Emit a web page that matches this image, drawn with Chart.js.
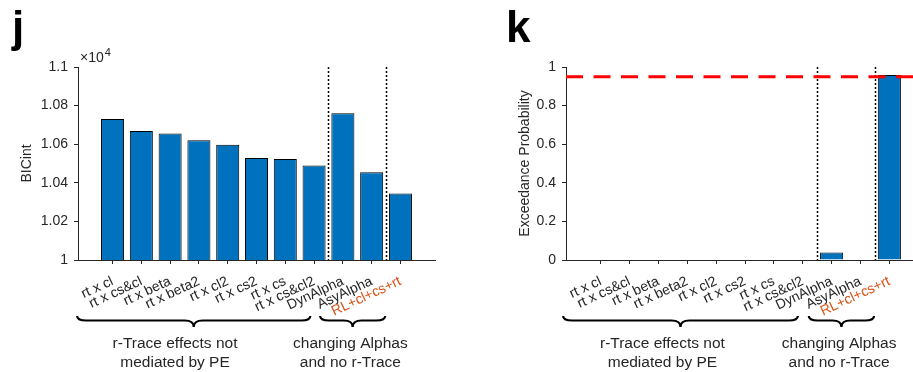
<!DOCTYPE html>
<html>
<head>
<meta charset="utf-8">
<script src="https://cdn.jsdelivr.net/npm/chart.js@4.4.0/dist/chart.umd.min.js"></script>
<style>
body { margin: 0; background: #fff; overflow: hidden; width: 913px; height: 372px; position: relative; }
canvas { position: absolute; top: 0; }
#bicChart { left: 0; }
#expChart { left: 460px; }
</style>
</head>
<body>
<canvas id="bicChart" width="460" height="372"></canvas>
<canvas id="expChart" width="480" height="372"></canvas>
<script>
// model names on the x axis (the last one is the winning model, in orange)
const modelLabels = ["rt x cl", "rt x cs&cl", "rt x beta", "rt x beta2", "rt x cl2", "rt x cs2",
    "rt x cs", "rt x cs&cl2", "DynAlpha", "AsyAlpha", "RL+cl+cs+rt"];
// integrated BIC, raw units (axis shows them x10^4)
const bicValues = [10731, 10669, 10655, 10621, 10597, 10529, 10523, 10490, 10761, 10455, 10345];
// exceedance probabilities
const exceedanceValues = [0, 0, 0, 0, 0, 0, 0, 0, 0.039, 0.003, 0.958];
const bicTicks = [10000, 10200, 10400, 10600, 10800, 11000];
const probTicks = [0, 0.2, 0.4, 0.6, 0.8, 1];
const groupNames = [["r-Trace effects not", "mediated by PE"], ["changing Alphas", "and no r-Trace"]];
const separators = [8.5, 10.5];
const threshold = 0.95;

const axisColor = "#262626";
const fontFamily = "'Liberation Sans', Arial, Helvetica, sans-serif";

function drawBrace(ctx, x1, x2, y0) {
    const ym = y0 + 4.5;
    const tip = y0 + 11;
    const xm = (x1 + x2) / 2;
    const q = 9;
    ctx.beginPath();
    ctx.moveTo(x1, y0);
    ctx.quadraticCurveTo(x1, ym, x1 + q, ym);
    ctx.lineTo(xm - q, ym);
    ctx.quadraticCurveTo(xm, ym, xm, tip);
    ctx.quadraticCurveTo(xm, ym, xm + q, ym);
    ctx.lineTo(x2 - q, ym);
    ctx.quadraticCurveTo(x2, ym, x2, y0);
    ctx.stroke();
}

const decorPlugin = {
    id: "decor",
    afterDatasetsDraw(chart, args, opts) {
        const {ctx, chartArea, scales: {x, y}} = chart;
        ctx.save();
        ctx.strokeStyle = "#000";
        ctx.lineWidth = 1.5;
        ctx.setLineDash([2, 2]);
        separators.forEach((s) => {
            const px = Math.round(x.getPixelForValue(s)) + 0.5;
            ctx.beginPath();
            ctx.moveTo(px, chartArea.top);
            ctx.lineTo(px, chartArea.bottom);
            ctx.stroke();
        });
        if (opts.threshold != null) {
            const py = y.getPixelForValue(opts.threshold);
            ctx.strokeStyle = "#ff0000";
            ctx.lineWidth = 3;
            ctx.setLineDash([17, 10.5]);
            ctx.beginPath();
            ctx.moveTo(chartArea.left, py);
            ctx.lineTo(chartArea.right, py);
            ctx.stroke();
        }
        ctx.restore();
    },
    afterDraw(chart, args, opts) {
        const {ctx, chartArea, scales: {x}} = chart;
        ctx.save();
        // panel letter
        ctx.fillStyle = "#000";
        ctx.font = "bold 44px " + fontFamily;
        ctx.textAlign = "left";
        ctx.textBaseline = "alphabetic";
        ctx.fillText(opts.letter, opts.letterX, 42);
        // x10^4 exponent
        if (opts.exponent) {
            ctx.fillStyle = axisColor;
            ctx.font = "14px " + fontFamily;
            const ex = chartArea.left + 2;
            ctx.fillText("\u00d710", ex, chartArea.top - 5);
            const w = ctx.measureText("\u00d710").width;
            ctx.font = "11px " + fontFamily;
            ctx.fillText(opts.exponent, ex + w + 1, chartArea.top - 11);
        }
        // braces
        ctx.strokeStyle = "#000";
        ctx.lineWidth = 2.2;
        opts.braces.forEach((b) => {
            drawBrace(ctx, x.getPixelForValue(b[0]), x.getPixelForValue(b[1]), 316);
        });
        // group labels
        ctx.fillStyle = axisColor;
        ctx.font = "15.5px " + fontFamily;
        ctx.textAlign = "center";
        ctx.textBaseline = "middle";
        groupNames.forEach((lines, i) => {
            const cx = x.getPixelForValue(opts.groupCenters[i]);
            lines.forEach((line, j) => ctx.fillText(line, cx, 344 + j * 19));
        });
        ctx.restore();
    }
};

function makePanel(canvasId, values, yTicks, cfg) {
    return new Chart(document.getElementById(canvasId), {
        type: "bar",
        data: {
            datasets: [{
                data: values.map((v, i) => ({x: i + 1, y: v})),
                backgroundColor: "#0072BD",
                borderColor: "#000",
                borderWidth: 1,
                barPercentage: 0.8,
                categoryPercentage: 1
            }]
        },
        plugins: [decorPlugin],
        options: {
            responsive: false,
            animation: false,
            devicePixelRatio: 1,
            layout: {padding: {left: 0, top: 67, right: cfg.padRight, bottom: 0}},
            plugins: {
                legend: {display: false},
                tooltip: {enabled: false},
                decor: cfg.decor
            },
            scales: {
                x: {
                    type: "linear",
                    min: -0.2,
                    max: 12.2,
                    offset: false,
                    afterBuildTicks: (axis) => {
                        axis.ticks = modelLabels.map((_, i) => ({value: i + 1}));
                    },
                    afterFit: (s) => {
                        s.height = 112;
                        s.paddingLeft = 0;
                        s.paddingRight = 0;
                    },
                    grid: {display: true, offset: false, drawOnChartArea: false, drawTicks: true, tickLength: 4, color: axisColor},
                    border: {display: true, color: axisColor, width: 1},
                    ticks: {
                        autoSkip: false,
                        minRotation: 25,
                        maxRotation: 25,
                        padding: 9,
                        font: {family: fontFamily, size: 14},
                        color: (c) => c.index === modelLabels.length - 1 ? "#D95319" : axisColor,
                        callback: (v) => modelLabels[v - 1]
                    }
                },
                y: {
                    min: yTicks[0],
                    max: yTicks[yTicks.length - 1],
                    afterBuildTicks: (axis) => {
                        axis.ticks = yTicks.map((v) => ({value: v}));
                    },
                    afterFit: (s) => { s.width = cfg.yWidth; },
                    grid: {display: true, drawOnChartArea: false, drawTicks: true, tickLength: 4, color: axisColor},
                    border: {display: true, color: axisColor, width: 1},
                    ticks: {
                        padding: 6,
                        font: {family: fontFamily, size: 14},
                        color: axisColor,
                        callback: cfg.tickFormat
                    },
                    title: {
                        display: true,
                        text: cfg.title,
                        color: axisColor,
                        font: {family: fontFamily, size: 14},
                        padding: {top: cfg.titlePad, bottom: 0}
                    }
                }
            }
        }
    });
}

makePanel("bicChart", bicValues, bicTicks, {
    padRight: 25,
    yWidth: 78,
    title: "BICint",
    titlePad: 18.6,
    tickFormat: (v) => String(v / 1e4),
    decor: {
        letter: "j", letterX: 12, exponent: "4",
        braces: [[-0.23, 7.87], [8.21, 10.47]],
        groupCenters: [3.17, 9.26]
    }
});

makePanel("expChart", exceedanceValues, probTicks, {
    padRight: 16,
    yWidth: 106,
    title: "Exceedance Probability",
    titlePad: 56.6,
    tickFormat: (v) => String(v),
    decor: {
        letter: "k", letterX: 46, threshold: threshold,
        braces: [[-0.3, 7.83], [8.21, 10.47]],
        groupCenters: [3.14, 9.26]
    }
});
</script>
</body>
</html>
